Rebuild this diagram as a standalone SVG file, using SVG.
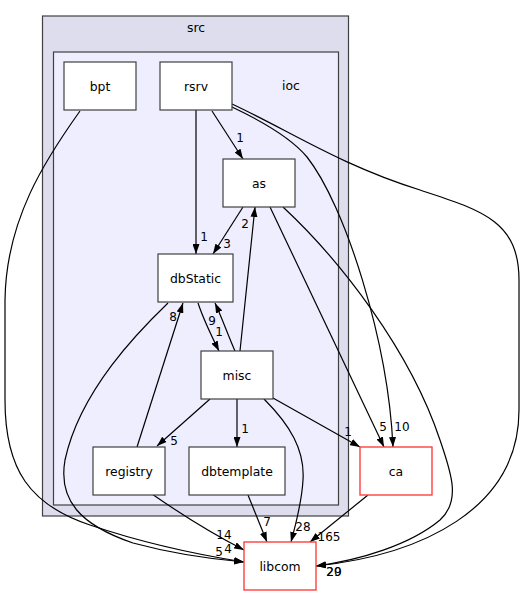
<svg xmlns="http://www.w3.org/2000/svg" width="525" height="596" viewBox="0 0 525 596">
<defs>
<style>
text{font-family:"DejaVu Sans","Liberation Sans",sans-serif;fill:#000}
.n{font-size:12.4px;text-anchor:middle}
.l{font-size:12px;text-anchor:middle}
.box{fill:#fff;stroke:#404040;stroke-width:1.2}
.red{fill:#fff;stroke:#ff4040;stroke-width:1.4}
.e{fill:none;stroke:#000;stroke-width:1.2;marker-end:url(#ah)}
</style>
<marker id="ah" markerUnits="userSpaceOnUse" viewBox="0 0 10 7" refX="10" refY="3.5" markerWidth="10" markerHeight="7" orient="auto">
<path d="M0,0 L10,3.5 L0,7 Z" fill="#000"/>
</marker>
</defs>
<rect width="525" height="596" fill="#fff"/>
<g id="cluster_src">
<rect x="42.5" y="16" width="306" height="500" fill="#ddddee" stroke="#404040" stroke-width="1.2"/>
<text class="n" x="196" y="32">src</text>
</g>
<g id="cluster_ioc">
<rect x="53.5" y="52" width="285" height="453" fill="#eeeeff" stroke="#404040" stroke-width="1.2"/>
<text class="n" x="291" y="90">ioc</text>
</g>
<g id="edges">
<path class="e" d="M212,111 L243,159"/>
<text class="l" x="240" y="142">1</text>
<path class="e" d="M196,110 L196,254"/>
<text class="l" x="204" y="241">1</text>
<path class="e" d="M232,107 C270,125 293,140 307,157 C345,205 388,340 393,447"/>
<text class="l" x="402" y="431">10</text>
<path class="e" d="M232,104 C290,131 340,165 420,190 C480,210 519,220 519,280 L519,410 C519,510 420,555 316,566"/>
<path class="e" d="M243,207 L213,254"/>
<text class="l" x="227" y="248">3</text>
<path class="e" d="M270,207 L384,447"/>
<text class="l" x="383" y="431">5</text>
<path class="e" d="M283,207 C340,260 410,350 440,440 C450,470 462,500 440,520 C410,545 360,560 316,566"/>
<text class="l" x="334" y="576">20</text>
<text class="l" x="334" y="576">29</text>
<path class="e" d="M240,351 L255,207"/>
<text class="l" x="245" y="228">2</text>
<path class="e" d="M198,303 C203,318 211,335 219,351"/>
<text class="l" x="219" y="336">1</text>
<path class="e" d="M235,351 C228,335 222,318 215,303"/>
<text class="l" x="212" y="325">9</text>
<path class="e" d="M137,447 L183,303"/>
<text class="l" x="173" y="321">8</text>
<path class="e" d="M210,399 L157,446"/>
<text class="l" x="174" y="445">5</text>
<path class="e" d="M237,399 L237,447"/>
<text class="l" x="245" y="433">1</text>
<path class="e" d="M273,398 L360,447"/>
<text class="l" x="348" y="436">1</text>
<path class="e" d="M264,399 C290,425 305,450 303,480 C302,500 297,520 291,542"/>
<text class="l" x="303" y="531">28</text>
<path class="e" d="M168,303 C140,330 80,390 65,460 C58,500 80,525 133,543 C170,553 210,559 244,562"/>
<path class="e" d="M80,111 C45,160 6,220 5,300 L5,400 C5,470 30,505 90,525 C140,542 200,555 244,562"/>
<text class="l" x="219" y="556">5</text>
<text class="l" x="228" y="553">4</text>
<path class="e" d="M152,494 C175,510 205,530 244,550"/>
<text class="l" x="224" y="539">14</text>
<path class="e" d="M248,495 L267,542"/>
<text class="l" x="267" y="526">7</text>
<path class="e" d="M368,495 L310,542"/>
<text class="l" x="329" y="541">165</text>
</g>
<g id="bpt"><rect class="box" x="64" y="62" width="72" height="48"/><text class="n" x="100" y="90.5">bpt</text></g>
<g id="rsrv"><rect class="box" x="160" y="62" width="72" height="48"/><text class="n" x="196" y="90.5">rsrv</text></g>
<g id="as"><rect class="box" x="223" y="159" width="72" height="48"/><text class="n" x="259" y="187.5">as</text></g>
<g id="dbStatic"><rect class="box" x="158" y="254" width="75" height="48"/><text class="n" x="195.5" y="282.5">dbStatic</text></g>
<g id="misc"><rect class="box" x="201" y="351" width="72" height="48"/><text class="n" x="237" y="379.5">misc</text></g>
<g id="registry"><rect class="box" x="93" y="447" width="72" height="48"/><text class="n" x="129" y="475.5">registry</text></g>
<g id="dbtemplate"><rect class="box" x="189" y="447" width="96" height="48"/><text class="n" x="237" y="475.5">dbtemplate</text></g>
<g id="ca"><rect class="red" x="360" y="447" width="72" height="48"/><text class="n" x="396" y="475.5">ca</text></g>
<g id="libcom"><rect class="red" x="244" y="542" width="72" height="48"/><text class="n" x="280" y="570.5">libcom</text></g>
</svg>
